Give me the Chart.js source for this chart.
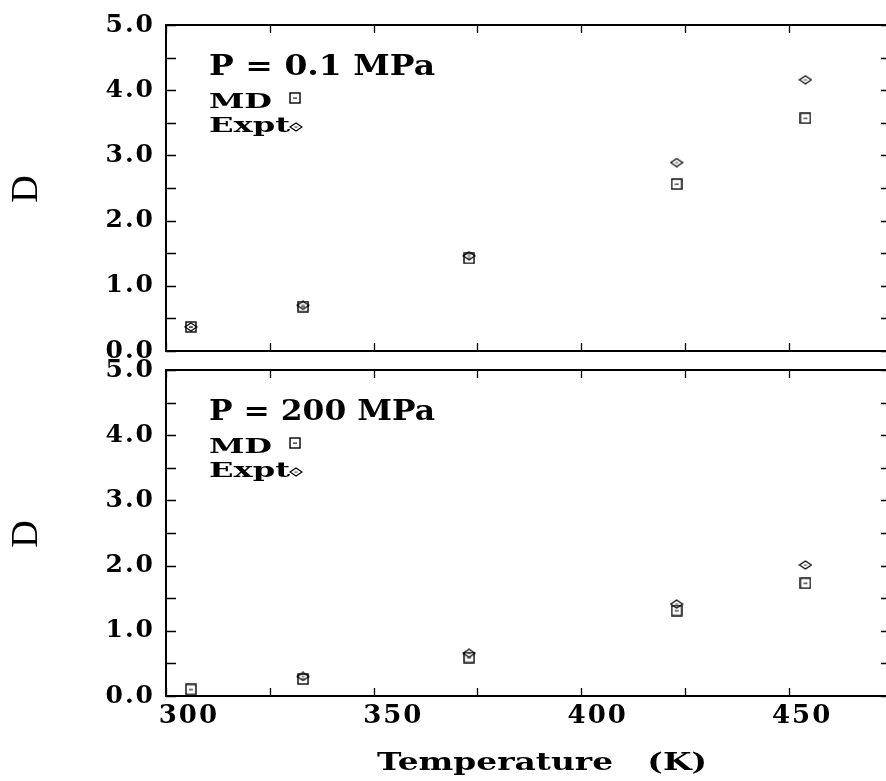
<!DOCTYPE html>
<html>
<head>
<meta charset="utf-8">
<script src="https://cdn.jsdelivr.net/npm/chart.js@4.4.1/dist/chart.umd.min.js"></script>
<style>
  html, body { margin: 0; padding: 0; background: #fff; }
  #wrap { position: relative; width: 886px; height: 781px; overflow: hidden; background: #fff; }
  #wrap canvas { position: absolute; left: 0; }
  #topChart { top: 0; }
  #bottomChart { top: 355px; }
</style>
</head>
<body>
<div id="wrap">
  <canvas id="topChart" width="895" height="366"></canvas>
  <canvas id="bottomChart" width="895" height="426"></canvas>
</div>
<script>
// temperatures (K) and diffusion coefficients
const temperatures = [306, 333, 373, 423, 454];
const mdLowP = [0.37, 0.68, 1.42, 2.56, 3.57];
const exptLowP = [0.37, 0.70, 1.46, 2.89, 4.16];
const mdHighP = [0.10, 0.26, 0.59, 1.31, 1.73];
const exptHighP = [null, 0.30, 0.655, 1.41, 2.01];

const xTickLabels = [300, 350, 400, 450];
const yTickLabels = [0, 1, 2, 3, 4, 5];
const panelTitles = ["P = 0.1 MPa", "P = 200 MPa"];
const seriesNames = ["MD", "Expt"];
const xTitle = "Temperature   (K)";

const serif = "'DejaVu Serif', 'Liberation Serif', serif";

// little marker glyphs: open square and flat diamond, each with a dash inside
function makeSquare() {
  const c = document.createElement("canvas");
  c.width = 12; c.height = 12;
  const g = c.getContext("2d");
  g.strokeStyle = "#000";
  g.lineWidth = 1.4;
  g.strokeRect(1, 1, 10, 10);
  g.fillStyle = "#333";
  g.fillRect(4, 5.5, 4, 1.3);
  return c;
}

function makeDiamond() {
  const c = document.createElement("canvas");
  c.width = 14; c.height = 10;
  const g = c.getContext("2d");
  g.strokeStyle = "#000";
  g.lineWidth = 1.3;
  g.beginPath();
  g.moveTo(1, 5);
  g.lineTo(7, 1);
  g.lineTo(13, 5);
  g.lineTo(7, 9);
  g.closePath();
  g.stroke();
  g.fillStyle = "#444";
  g.fillRect(5.5, 4.5, 3, 1.1);
  return c;
}

const squareMark = makeSquare();
const diamondMark = makeDiamond();

// the original lettering is broad, so open it up a little
const spacing = {
  id: "spacing",
  beforeDraw(chart) {
    chart.ctx.letterSpacing = "2px";
  },
};

// box round the panel and inward tick marks on all four sides
const frameTicks = {
  id: "frameTicks",
  afterDraw(chart) {
    const { ctx, chartArea: a, scales } = chart;
    ctx.save();
    ctx.strokeStyle = "#000";
    ctx.lineWidth = 1.3;
    ctx.beginPath();
    scales.y.ticks.forEach((t) => {
      const py = Math.round(scales.y.getPixelForValue(t.value)) + 0.5;
      ctx.moveTo(a.left, py);
      ctx.lineTo(a.left + 10, py);
      ctx.moveTo(a.right - 7, py);
      ctx.lineTo(a.right, py);
    });
    scales.x.ticks.forEach((t) => {
      const px = Math.round(scales.x.getPixelForValue(t.value)) + 0.5;
      ctx.moveTo(px, a.top);
      ctx.lineTo(px, a.top + 8);
      ctx.moveTo(px, a.bottom);
      ctx.lineTo(px, a.bottom - 8);
    });
    ctx.stroke();
    ctx.lineWidth = 2;
    ctx.strokeRect(a.left, a.top, a.right - a.left, a.bottom - a.top);
    ctx.restore();
  },
};

// draw text squeezed or stretched to a given width
function wideText(ctx, text, x, y, width) {
  const w = ctx.measureText(text).width;
  ctx.save();
  ctx.translate(x, y);
  ctx.scale(width / w, 1);
  ctx.fillText(text, 0, 0);
  ctx.restore();
}

// pressure caption, the hand-made key and the axis caption
const panelKey = {
  id: "panelKey",
  afterDraw(chart, args, opts) {
    const { ctx, chartArea: a } = chart;
    ctx.save();
    ctx.fillStyle = "#000";
    ctx.textBaseline = "alphabetic";
    ctx.textAlign = "left";
    ctx.letterSpacing = "0px";
    ctx.font = "bold 27px " + serif;
    wideText(ctx, opts.title, a.left + 43, a.top + 50, 226);
    ctx.font = "bold 21px " + serif;
    wideText(ctx, seriesNames[0], a.left + 43, a.top + 83, 63);
    wideText(ctx, seriesNames[1], a.left + 43, a.top + 107, 81);
    ctx.drawImage(squareMark, a.left + 129 - 6, a.top + 73 - 6);
    ctx.drawImage(diamondMark, a.left + 130 - 7, a.top + 102 - 5);
    if (opts.axisTitle) {
      ctx.font = "bold 25px " + serif;
      wideText(ctx, opts.axisTitle, a.left + 211, a.bottom + 74, 330);
    }
    ctx.restore();
  },
};

function points(values) {
  return temperatures
    .map((t, i) => ({ x: t, y: values[i] }))
    .filter((p) => p.y !== null);
}

function buildPanel(canvasId, md, expt, title, isBottom) {
  const ctx = document.getElementById(canvasId);
  return new Chart(ctx, {
    type: "scatter",
    data: {
      datasets: [
        {
          label: seriesNames[0],
          data: points(md),
          pointStyle: squareMark,
          pointRadius: 6,
        },
        {
          label: seriesNames[1],
          data: points(expt),
          pointStyle: diamondMark,
          pointRadius: 6,
        },
      ],
    },
    options: {
      responsive: false,
      animation: false,
      layout: { padding: { top: isBottom ? 15 : 25, right: 2, left: 0, bottom: 0 } },
      plugins: {
        legend: { display: false },
        tooltip: { enabled: false },
        panelKey: { title: title, axisTitle: isBottom ? xTitle : null },
      },
      scales: {
        x: {
          type: "linear",
          display: false,
          min: 300,
          max: 473.9,
          ticks: { stepSize: 25, includeBounds: false },
        },
        xl: {
          type: "linear",
          position: "bottom",
          min: 294.4,
          max: 471.0,
          grid: { display: false, drawTicks: false },
          border: { display: false },
          afterBuildTicks: (s) => {
            s.ticks = xTickLabels.map((v) => ({ value: v }));
          },
          ticks: {
            display: isBottom,
            autoSkip: false,
            maxRotation: 0,
            padding: 5,
            color: "#000",
            font: { family: serif, size: 26, weight: "bold" },
            callback: (v) => String(v),
          },
          afterFit: (s) => {
            s.height = isBottom ? 85 : 15;
            s.paddingLeft = 0;
            s.paddingRight = 0;
          },
        },
        y: {
          min: 0,
          max: 5,
          grid: { display: false, drawTicks: false },
          border: { display: false },
          ticks: {
            stepSize: 0.5,
            autoSkip: false,
            padding: 11,
            color: "#000",
            font: { family: serif, size: 25, weight: "bold" },
            callback: (v) => (yTickLabels.includes(v) ? v.toFixed(1) : ""),
          },
          title: {
            display: true,
            text: "D",
            color: "#000",
            font: { family: "'Liberation Serif', serif", size: 38 },
            padding: { top: 4 },
          },
          afterFit: (s) => {
            s.width = 166;
            s.paddingTop = 0;
            s.paddingBottom = 0;
          },
        },
      },
    },
    plugins: [spacing, frameTicks, panelKey],
  });
}

buildPanel("topChart", mdLowP, exptLowP, panelTitles[0], false);
buildPanel("bottomChart", mdHighP, exptHighP, panelTitles[1], true);
</script>
</body>
</html>
